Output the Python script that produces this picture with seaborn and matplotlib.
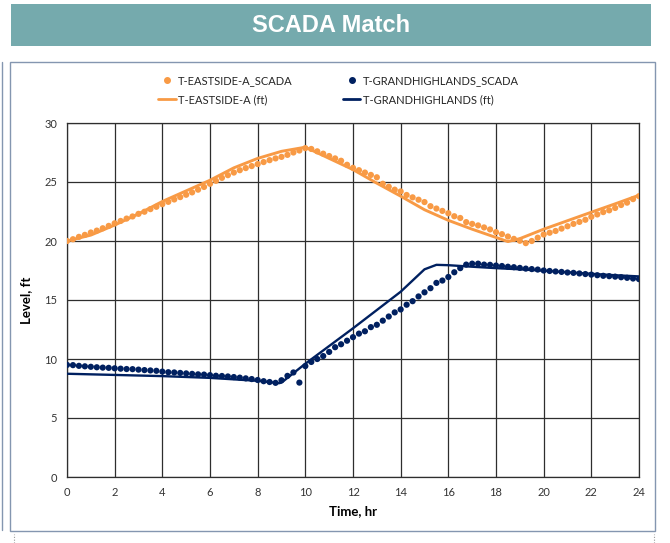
import numpy as np
import pandas as pd
import matplotlib
matplotlib.use("Agg")
import matplotlib.pyplot as plt
from matplotlib.patches import Rectangle
from matplotlib.lines import Line2D
import seaborn as sns

# SCADA readings every 15 minutes over the day
scada_time = np.arange(0, 24.001, 0.25)

eastside_scada = [
    20.0, 20.15, 20.35, 20.52, 20.72, 20.88, 21.08, 21.28, 21.5, 21.7,
    21.9, 22.08, 22.3, 22.48, 22.7, 22.9, 23.12, 23.32, 23.52, 23.72,
    23.92, 24.12, 24.35, 24.58, 24.85, 25.1, 25.35, 25.58, 25.8, 26.0,
    26.18, 26.35, 26.52, 26.69, 26.85, 27.0, 27.13, 27.3, 27.5, 27.67,
    27.87, 27.8, 27.6, 27.4, 27.2, 27.0, 26.8, 26.46, 26.2, 26.0,
    25.8, 25.6, 25.4, 24.85, 24.6, 24.35, 24.2, 23.9, 23.7, 23.5,
    23.3, 22.95, 22.75, 22.55, 22.35, 22.1, 21.95, 21.6, 21.45, 21.32,
    21.15, 20.98, 20.75, 20.58, 20.38, 20.18, 20.02, 19.82, 20.0, 20.28,
    20.55, 20.7, 20.85, 21.05, 21.25, 21.45, 21.62, 21.8, 22.05, 22.25,
    22.45, 22.6, 22.8, 23.05, 23.25, 23.55, 23.8,
]

grand_scada = [
    9.5, 9.48, 9.42, 9.38, 9.34, 9.3, 9.27, 9.25, 9.21, 9.18,
    9.15, 9.14, 9.1, 9.06, 9.03, 9.0, 8.93, 8.88, 8.86, 8.82,
    8.78, 8.74, 8.7, 8.68, 8.63, 8.58, 8.56, 8.52, 8.47, 8.42,
    8.36, 8.3, 8.22, 8.12, 8.05, 7.98, 8.2, 8.57, 8.86, 8.0,
    9.4, 9.75, 10.0, 10.25, 10.6, 11.0, 11.25, 11.55, 11.85, 12.15,
    12.35, 12.7, 12.9, 13.25, 13.6, 13.95, 14.2, 14.6, 14.9, 15.3,
    15.65, 16.0, 16.45, 16.65, 16.95, 17.35, 17.7, 18.0, 18.08, 18.08,
    18.0, 17.98, 17.92, 17.88, 17.82, 17.78, 17.72, 17.66, 17.62, 17.58,
    17.5, 17.46, 17.42, 17.38, 17.33, 17.3, 17.25, 17.2, 17.15, 17.1,
    17.05, 17.02, 16.98, 16.93, 16.88, 16.82, 16.77,
]

# Modelled tank levels
eastside_model_time = [0, 1, 2, 3, 4, 5, 6, 7, 8, 9, 10, 11, 12, 13, 14,
                       15, 16, 17, 18, 18.5, 19, 20, 21, 22, 23, 24]
eastside_model = [20.0, 20.5, 21.35, 22.3, 23.35, 24.25, 25.15, 26.2, 27.0,
                  27.6, 27.95, 27.0, 26.05, 24.9, 23.8, 22.65, 21.75, 21.0,
                  20.3, 19.95, 20.2, 21.0, 21.72, 22.44, 23.15, 23.88]

grand_model_time = [0, 2, 4, 6, 8, 8.9, 9, 10, 11, 12, 13, 14, 15, 15.5,
                    16, 17, 18, 19, 20, 21, 22, 23, 24]
grand_model = [8.75, 8.65, 8.55, 8.4, 8.15, 7.95, 8.0, 9.6, 11.1, 12.6,
               14.15, 15.7, 17.6, 17.98, 17.95, 17.82, 17.7, 17.6, 17.48,
               17.35, 17.22, 17.1, 17.0]

x_ticks = list(range(0, 25, 2))
y_ticks = list(range(0, 31, 5))

ORANGE = "#F89A45"
NAVY = "#002060"
GRID = "#2e2e2e"

sns.set_theme(style="white")
plt.rcParams["font.family"] = ["Lato", "DejaVu Sans"]

fig = plt.figure(figsize=(6.7, 5.43), dpi=100)

# header banner
fig.patches.append(Rectangle((11 / 670, 1 - 46 / 543), 640 / 670, 42 / 543,
                             transform=fig.transFigure, facecolor="#75AAAD",
                             edgecolor="none", zorder=0))
fig.text(331 / 670, 1 - 25 / 543, "SCADA Match", ha="center", va="center",
         color="white", fontsize=17, fontweight="bold",
         family=["Liberation Sans Narrow", "Liberation Sans", "DejaVu Sans"])

# chart frame
fig.patches.append(Rectangle((10 / 670, 1 - 531 / 543), 645 / 670, 469 / 543,
                             transform=fig.transFigure, facecolor="none",
                             edgecolor="#8496B0", linewidth=1.0, zorder=0))
fig.lines.append(Line2D([2 / 670, 2 / 670], [1 - 530 / 543, 1 - 62 / 543],
                        transform=fig.transFigure, color="#8496B0", lw=1.0))
for xp in (14, 654):
    fig.lines.append(Line2D([xp / 670, xp / 670], [0, 1 - 534 / 543],
                            transform=fig.transFigure, color="#9a9a9a",
                            lw=0.8, linestyle=(0, (1, 1.5))))

ax = fig.add_axes([67 / 670, 1 - 477 / 543, 572 / 670, 354 / 543])
ax.set_zorder(5)
ax.patch.set_alpha(0)

scada_df = pd.DataFrame({"time": scada_time,
                         "eastside": eastside_scada,
                         "grand": grand_scada})
east_df = pd.DataFrame({"time": eastside_model_time, "level": eastside_model})
grand_df = pd.DataFrame({"time": grand_model_time, "level": grand_model})

sns.lineplot(data=grand_df, x="time", y="level", color=NAVY, linewidth=1.7,
             ax=ax, zorder=3)
sns.lineplot(data=east_df, x="time", y="level", color=ORANGE, linewidth=2.1,
             ax=ax, zorder=3)
sns.scatterplot(data=scada_df, x="time", y="eastside", color=ORANGE, s=20,
                edgecolor="none", ax=ax, zorder=4)
sns.scatterplot(data=scada_df, x="time", y="grand", color=NAVY, s=20,
                edgecolor="none", ax=ax, zorder=4)

ax.set_xlim(0, 24)
ax.set_ylim(0, 30)
ax.set_xticks(x_ticks)
ax.set_yticks(y_ticks)
ax.grid(True, color=GRID, linewidth=0.9)
ax.set_axisbelow(True)
for sp in ax.spines.values():
    sp.set_visible(True)
    sp.set_color(GRID)
    sp.set_linewidth(0.9)
ax.tick_params(axis="both", length=0, labelsize=8, colors="#333333", pad=7)
ax.set_xlabel("Time, hr", fontsize=9.5, fontweight="bold", color="black",
              labelpad=5)
ax.set_ylabel("Level, ft", fontsize=9.5, fontweight="bold", color="black",
              labelpad=9)

handles = [
    Line2D([], [], linestyle="none", marker="o", markersize=4,
           color=ORANGE, label="T-EASTSIDE-A_SCADA"),
    Line2D([], [], color=ORANGE, lw=2.0, label="T-EASTSIDE-A (ft)"),
    Line2D([], [], linestyle="none", marker="o", markersize=4,
           color=NAVY, label="T-GRANDHIGHLANDS_SCADA"),
    Line2D([], [], color=NAVY, lw=2.0, label="T-GRANDHIGHLANDS (ft)"),
]
fig.legend(handles=handles, loc="center", bbox_to_anchor=(0.505, 1 - 90 / 543),
           ncol=2, frameon=False, fontsize=8, handlelength=1.6,
           handletextpad=0.2, columnspacing=4.5, labelspacing=0.7)

fig.savefig("out.png", dpi=100)
